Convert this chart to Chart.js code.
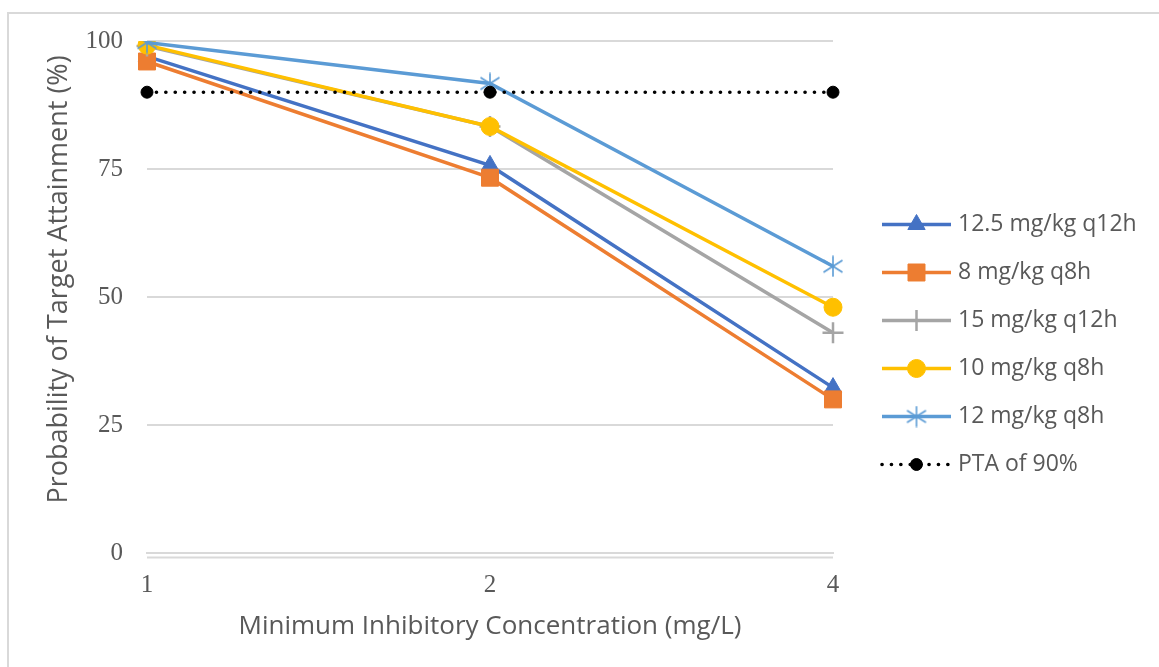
<!DOCTYPE html>
<html>
<head>
<meta charset="utf-8">
<script src="https://cdn.jsdelivr.net/npm/chart.js@4.4.1/dist/chart.umd.min.js"></script>
<style>
  html, body { margin: 0; padding: 0; background: #fff; overflow: hidden; }
  #frame { position: absolute; left: 7px; top: 12px; border-left: 2px solid #d9d9d9; border-top: 2px solid #d9d9d9; }
  #chart { display: block; }
</style>
</head>
<body>
<div id="frame"><canvas id="chart" width="1150" height="653"></canvas></div>
<script>
const mics = ['1', '2', '4'];
const yTicks = [0, 25, 50, 75, 100];

const seriesNames = ['12.5 mg/kg q12h', '8 mg/kg q8h', '15 mg/kg q12h', '10 mg/kg q8h', '12 mg/kg q8h', 'PTA of 90%'];
const pta125q12 = [97, 75.7, 32.3];
const pta8q8 = [96, 73.3, 30];
const pta15q12 = [99, 83.3, 43];
const pta10q8 = [99.2, 83.3, 48];
const pta12q8 = [99.7, 91.7, 56];
const ptaTarget = [90, 90, 90];

// Excel-like asterisk marker (X + vertical stroke)
function starMarker(color) {
  const c = document.createElement('canvas');
  c.width = 22; c.height = 22;
  const g = c.getContext('2d');
  g.strokeStyle = color;
  g.lineWidth = 1.6;
  g.beginPath();
  g.moveTo(11, 0.5); g.lineTo(11, 21.5);
  g.moveTo(1.5, 5); g.lineTo(20.5, 17);
  g.moveTo(20.5, 5); g.lineTo(1.5, 17);
  g.stroke();
  return c;
}

const colors = ['#4472C4', '#ED7D31', '#A5A5A5', '#FFC000', '#5B9BD5', '#000000'];
const values = [pta125q12, pta8q8, pta15q12, pta10q8, pta12q8, ptaTarget];
const markers = [
  { pointStyle: 'triangle', pointRadius: 10 },
  { pointStyle: 'rect', pointRadius: 12 },
  { pointStyle: 'cross', pointRadius: 10.5, pointBorderWidth: 2.5 },
  { pointStyle: 'circle', pointRadius: 9 },
  { pointStyle: starMarker('#5B9BD5'), pointRadius: 11 },
  { pointStyle: 'circle', pointRadius: 6 }
];

const datasets = seriesNames.map((name, i) => {
  const ds = {
    label: name,
    data: values[i],
    borderColor: colors[i],
    backgroundColor: colors[i],
    pointBackgroundColor: colors[i],
    pointBorderColor: colors[i],
    pointBorderWidth: 1,
    borderWidth: 3.5,
    tension: 0,
    order: seriesNames.length - i,
    ...markers[i]
  };
  if (i === 5) {
    ds.borderDash = [0.1, 9.3];
    ds.borderCapStyle = 'round';
    ds.borderWidth = 3.6;
  }
  return ds;
});

const LEGEND_WIDTH = 326;

// fixes legend width, draws the line + marker sample per legend item and the second baseline
const decor = {
  id: 'decor',
  afterInit(chart) {
    const lg = chart.legend;
    const fit = lg.fit.bind(lg);
    lg.fit = function () { fit(); this.width = LEGEND_WIDTH; };
  },
  afterDraw(chart) {
    const ctx = chart.ctx;
    const area = chart.chartArea;
    ctx.save();
    ctx.strokeStyle = '#d9d9d9';
    ctx.lineWidth = 2;
    ctx.beginPath();
    ctx.moveTo(area.left, area.bottom + 4.5);
    ctx.lineTo(area.right, area.bottom + 4.5);
    ctx.stroke();

    const legend = chart.legend;
    legend.legendItems.forEach((item, k) => {
      const box = legend.legendHitBoxes[k];
      const ds = chart.data.datasets[item.datasetIndex];
      const y = box.top + box.height / 2;
      const x0 = box.left + 24, x1 = box.left + 93;
      ctx.strokeStyle = ds.borderColor;
      ctx.lineWidth = ds.borderWidth;
      ctx.lineCap = ds.borderCapStyle || 'butt';
      ctx.setLineDash(ds.borderDash || []);
      ctx.beginPath();
      ctx.moveTo(x0, y);
      ctx.lineTo(x1, y);
      ctx.stroke();
      ctx.setLineDash([]);
      ctx.fillStyle = ds.pointBackgroundColor;
      ctx.strokeStyle = ds.pointBorderColor;
      ctx.lineWidth = ds.pointBorderWidth;
      Chart.helpers.drawPoint(ctx, {
        pointStyle: ds.pointStyle, radius: ds.pointRadius, rotation: 0, borderWidth: ds.pointBorderWidth
      }, (x0 + x1) / 2, y);
    });
    ctx.restore();
  }
};

const serif = "'Liberation Serif', 'DejaVu Serif', serif";
const sans = "'Open Sans', 'Noto Sans', sans-serif";
const pad = '\u00a0\u00a0\u00a0\u00a0\u00a0';

new Chart(document.getElementById('chart'), {
  type: 'line',
  data: { labels: mics, datasets: datasets },
  plugins: [decor],
  options: {
    responsive: false,
    animation: false,
    layout: { padding: { top: 27, right: 0, bottom: 19, left: 0 } },
    plugins: {
      tooltip: { enabled: false },
      legend: {
        position: 'right',
        align: 'center',
        labels: {
          boxWidth: 88.5,
          boxHeight: 20,
          padding: 25,
          color: '#595959',
          font: { family: sans, size: 23 },
          sort: (a, b) => a.datasetIndex - b.datasetIndex,
          generateLabels(chart) {
            return chart.data.datasets.map((ds, i) => ({
              text: ds.label,
              datasetIndex: i,
              fillStyle: 'rgba(0,0,0,0)',
              strokeStyle: 'rgba(0,0,0,0)',
              lineWidth: 0,
              fontColor: '#595959',
              hidden: false
            }));
          }
        }
      }
    },
    scales: {
      x: {
        offset: false,
        grid: { display: false, drawTicks: false },
        border: { display: true, color: '#d9d9d9', width: 2 },
        ticks: { color: '#595959', font: { family: serif, size: 25 }, padding: 17, maxRotation: 0 },
        title: { display: true, text: 'Minimum Inhibitory Concentration (mg/L)', color: '#595959', font: { family: sans, size: 26 }, padding: { top: 4, bottom: 6 } },
        afterFit(scale) { scale.height = 95; }
      },
      y: {
        min: 0,
        max: 100,
        afterBuildTicks(scale) { scale.ticks = yTicks.map(v => ({ value: v })); },
        grid: { color: '#d9d9d9', lineWidth: 2, drawTicks: false },
        border: { display: false },
        ticks: { color: '#595959', font: { family: serif, size: 25 }, padding: 24 },
        title: { display: true, text: pad + 'Probability of Target Attainment (%)', color: '#595959', font: { family: sans, size: 27 }, padding: { top: 34, bottom: 0 } },
        afterFit(scale) {
          scale.width = 138;
          scale.paddingTop = 10;
          scale.paddingBottom = 10;
        }
      }
    }
  }
});
</script>
</body>
</html>
